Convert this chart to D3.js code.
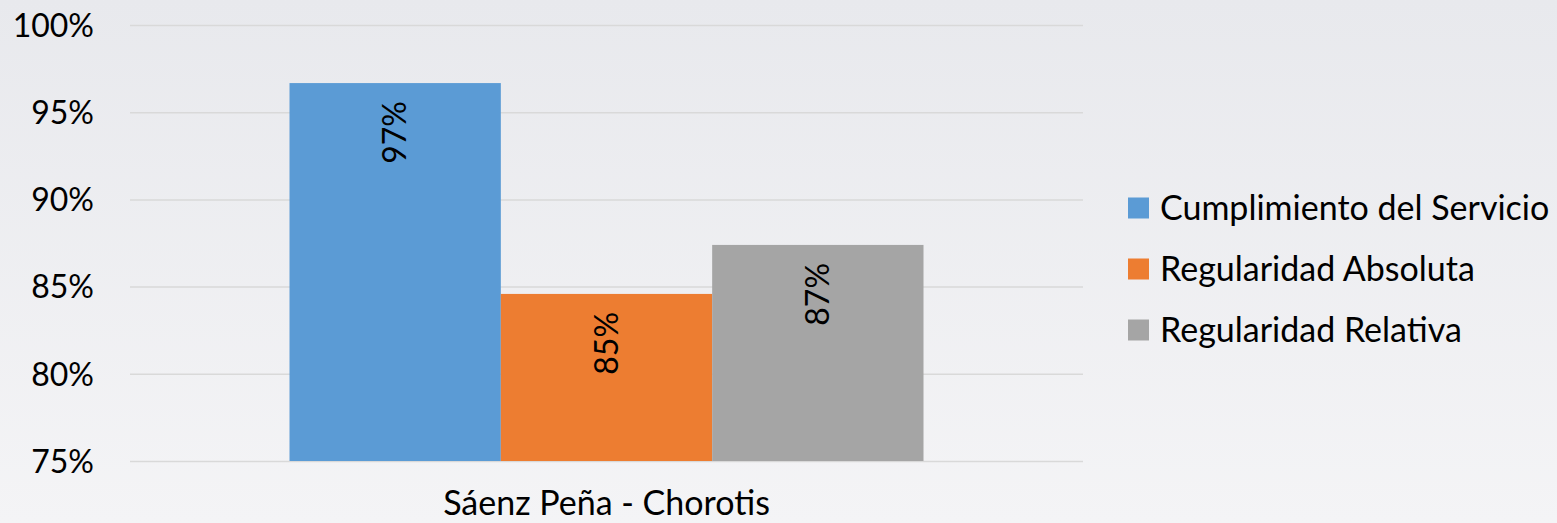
<!DOCTYPE html>
<html><head><meta charset="utf-8">
<script src="https://cdn.jsdelivr.net/npm/d3@7"></script>
<style>html,body{margin:0;padding:0;overflow:hidden;} svg{display:block;}</style>
</head><body>
<svg id="chart" width="1557" height="523"></svg>
<script>
const categories = ["Sáenz Peña - Chorotis"];
const seriesNames = ["Cumplimiento del Servicio", "Regularidad Absoluta", "Regularidad Relativa"];
const seriesValues = [96.67, 84.58, 87.39];
const dataLabels = ["97%", "85%", "87%"];
const tickValues = [75, 80, 85, 90, 95, 100];
const tickLabels = ["75%", "80%", "85%", "90%", "95%", "100%"];
const colors = ["#5b9bd5", "#ed7d31", "#a5a5a5"];

(function () {
const W = 1557, H = 523;
const FONT = "Lato, 'Open Sans', sans-serif";
const svg = d3.select("#chart");

const defs = svg.append("defs");
const grad = defs.append("linearGradient").attr("id", "bg").attr("x1", 0).attr("y1", 0).attr("x2", 0).attr("y2", 1);
grad.append("stop").attr("offset", "0%").attr("stop-color", "#e8e9ed");
grad.append("stop").attr("offset", "100%").attr("stop-color", "#f4f4f6");
svg.append("rect").attr("width", W).attr("height", H).attr("fill", "url(#bg)");

const mLeft = 130, mRight = 1083, mTop = 25, mBottom = 461;
const y = d3.scaleLinear().domain([75, 100]).range([mBottom, mTop]);
const x0 = d3.scaleBand().domain(categories).range([mLeft, mRight]).paddingInner(0).paddingOuter(0.2516);
const x1 = d3.scaleBand().domain(seriesNames).range([0, x0.bandwidth()]).padding(0);

const yAxis = d3.axisLeft(y).tickValues(tickValues).tickSize(-(mRight - mLeft)).tickFormat((d, i) => tickLabels[i]).tickPadding(36);
const ga = svg.append("g").attr("transform", `translate(${mLeft},0)`).call(yAxis);
ga.select(".domain").remove();
ga.selectAll(".tick line").attr("stroke", "#d9d9d9").attr("stroke-width", 1.5);
ga.selectAll(".tick text").attr("fill", "#000").style("font-family", FONT).style("font-size", "32px").attr("dy", "0.35em");

const g = svg.append("g");
categories.forEach(cat => {
  seriesNames.forEach((s, i) => {
    const bx = x0(cat) + x1(s);
    g.append("rect")
      .attr("x", bx).attr("y", y(seriesValues[i]))
      .attr("width", x1.bandwidth()).attr("height", y(75) - y(seriesValues[i]))
      .attr("fill", colors[i]);
    const cx = bx + x1.bandwidth() / 2;
    const ty = y(seriesValues[i]) + 18;
    g.append("text")
      .attr("transform", `translate(${cx},${ty}) rotate(-90)`)
      .attr("text-anchor", "end").attr("dy", "0.35em")
      .style("font-family", FONT).style("font-size", "32px").attr("fill", "#000")
      .text(dataLabels[i]);
  });
});

const xAxis = d3.axisBottom(x0).tickSize(0).tickPadding(0);
const gx = svg.append("g").attr("transform", `translate(0,${mBottom})`).call(xAxis);
gx.select(".domain").remove();
gx.selectAll(".tick text").attr("fill", "#000").style("font-family", FONT).style("font-size", "34px").attr("y", 54).attr("dy", 0);

const legend = svg.append("g");
seriesNames.forEach((s, i) => {
  const cy = 208 + i * 61;
  legend.append("rect").attr("x", 1128).attr("y", cy - 10.5).attr("width", 21).attr("height", 21).attr("fill", colors[i]);
  legend.append("text").attr("x", 1160).attr("y", cy).attr("dy", "0.35em")
    .style("font-family", FONT).style("font-size", "34px").attr("fill", "#000").text(s);
});
})();
</script>
</body></html>
